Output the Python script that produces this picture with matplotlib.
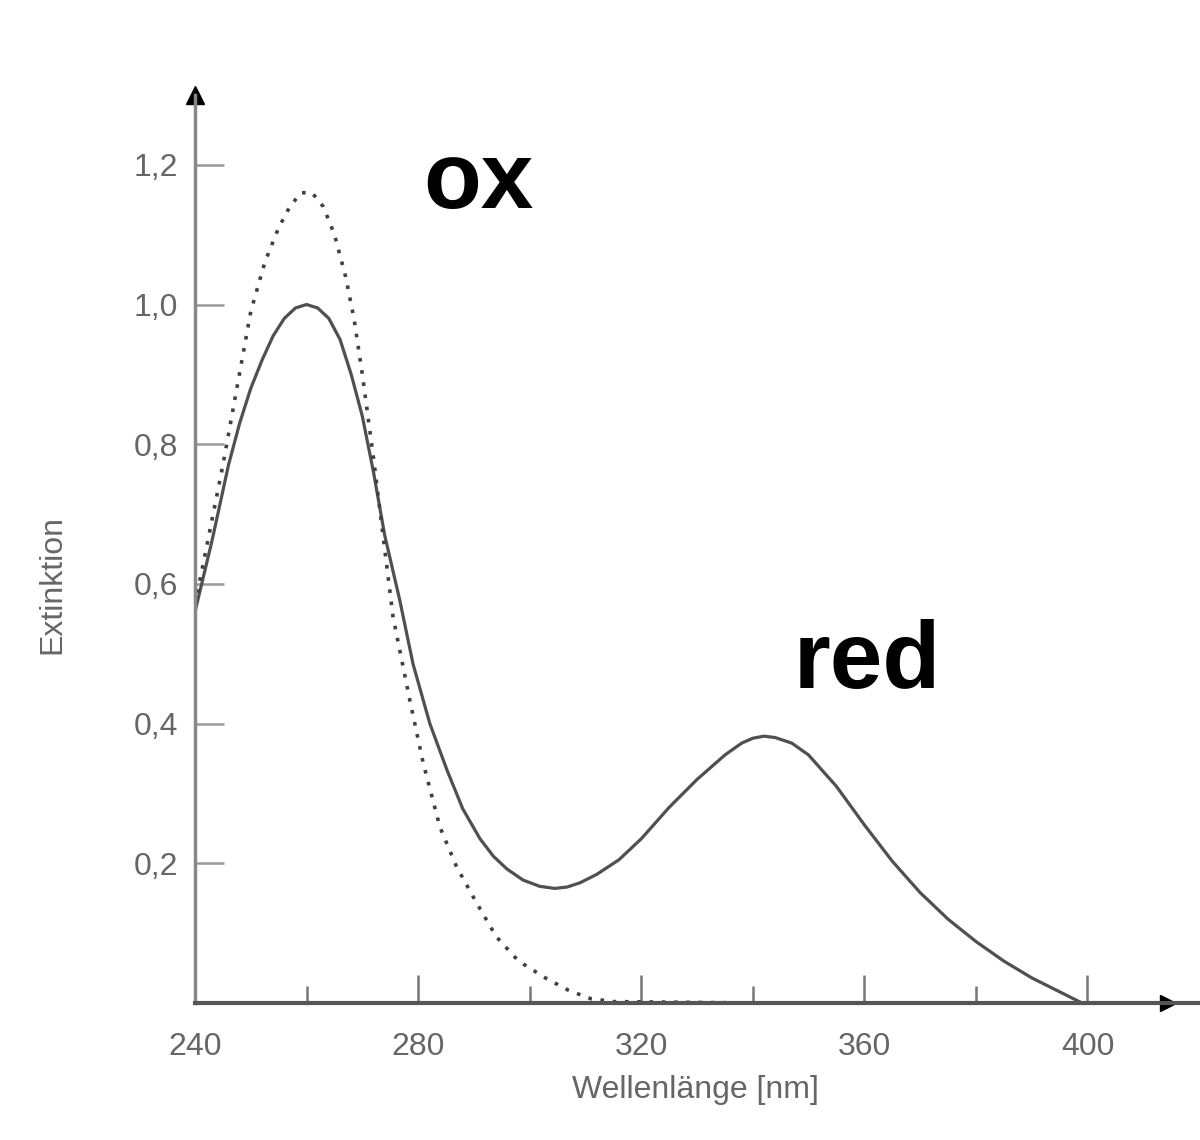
import matplotlib
matplotlib.use("Agg")
import matplotlib.pyplot as plt

# Extinktionsspektren NADH (red) und NAD+ (ox)
wl_red = [240, 243, 246, 248, 250, 252, 254, 256, 258, 260, 262, 264, 266, 268, 270,
          272, 274, 276.7, 279.1, 282.1, 285.2, 288, 291.1, 293.5, 295.9, 298.8, 301.8,
          304.5, 306.7, 309, 312, 316, 320, 325, 330, 335, 338, 340, 342, 344, 347,
          350, 355, 360, 365, 370, 375, 380, 385, 390, 395, 398.5]
ext_red = [0.56, 0.66, 0.77, 0.83, 0.88, 0.92, 0.955, 0.98, 0.995, 1.00, 0.995, 0.98, 0.95, 0.90, 0.84,
           0.76, 0.67, 0.577, 0.485, 0.40, 0.333, 0.278, 0.235, 0.21, 0.192, 0.176, 0.167,
           0.164, 0.166, 0.172, 0.184, 0.205, 0.235, 0.28, 0.32, 0.355, 0.372, 0.379, 0.382, 0.380, 0.372,
           0.355, 0.31, 0.255, 0.203, 0.158, 0.12, 0.088, 0.06, 0.036, 0.016, 0.002]

wl_ox = [240, 242.5, 245, 247.5, 250, 252.5, 255, 257, 259, 261, 263, 265, 267, 268.5, 270,
         272, 275.5, 278.5, 280.9, 283.9, 286.9, 290.5, 294, 298, 303, 307, 311, 315, 340, 370, 398]
ext_ox = [0.57, 0.67, 0.77, 0.88, 0.99, 1.06, 1.11, 1.14, 1.16, 1.16, 1.14, 1.10, 1.04, 0.98, 0.90,
          0.78, 0.553, 0.434, 0.344, 0.252, 0.195, 0.143, 0.095, 0.06, 0.035, 0.018, 0.006, 0.002, 0.0, 0.0, 0.0]

x_ticks = [240, 280, 320, 360, 400]
x_minor = [260, 300, 340, 380]
y_ticks = [0.2, 0.4, 0.6, 0.8, 1.0, 1.2]
y_labels = ["0,2", "0,4", "0,6", "0,8", "1,0", "1,2"]

grey = "#666666"
plt.rcParams['font.family'] = ['Liberation Sans', 'DejaVu Sans']

fig = plt.figure(figsize=(12, 11.4), dpi=100)
ax = fig.add_axes([0.1625, 0.1202, 0.8367, 0.7965])

ax.plot(wl_red, ext_red, color="#505050", lw=2.3, solid_joinstyle="round")
ax.plot(wl_ox, ext_ox, color="#404040", lw=2.6, linestyle=(0, (1, 2.4)))

ax.set_xlim(240, 420)
ax.set_ylim(0, 1.3)

for s in ["top", "right"]:
    ax.spines[s].set_visible(False)
ax.spines["left"].set_color("#888888")
ax.spines["left"].set_linewidth(2.5)
ax.spines["bottom"].set_color("#555555")
ax.spines["bottom"].set_linewidth(3)

ax.set_xticks(x_ticks)
ax.set_xticklabels([str(v) for v in x_ticks])
ax.set_xticks(x_minor, minor=True)
ax.set_yticks(y_ticks)
ax.set_yticklabels(y_labels)

ax.tick_params(axis="x", which="major", direction="in", length=20, width=1.8, color="#777777",
               labelsize=23, labelcolor=grey, pad=21)
ax.tick_params(axis="x", which="minor", direction="in", length=12, width=1.8, color="#777777")
ax.tick_params(axis="y", direction="in", length=21, width=1.8, color="#999999",
               labelsize=23, labelcolor=grey, pad=12)

# Pfeilspitzen an den Achsen
ax.plot(0, 1, "^", color="black", ms=13, transform=ax.transAxes, clip_on=False)
ax.plot(414.4, 0, ">", color="black", ms=11, clip_on=False)

fig.text(52 / 1200, 1 - 585 / 1140, "Extinktion", rotation=90, ha="center", va="center",
         fontsize=23, color=grey)
fig.text(695 / 1200, 1 - 1090 / 1140, "Wellenlänge [nm]", ha="center", va="center",
         fontsize=23, color=grey)

ax.text(281.0, 1.138, "ox", fontsize=68, fontweight="bold", color="black",
        ha="left", va="baseline")
ax.text(347.3, 0.451, "red", fontsize=68, fontweight="bold", color="black",
        ha="left", va="baseline")

fig.savefig("out.png", dpi=100)
